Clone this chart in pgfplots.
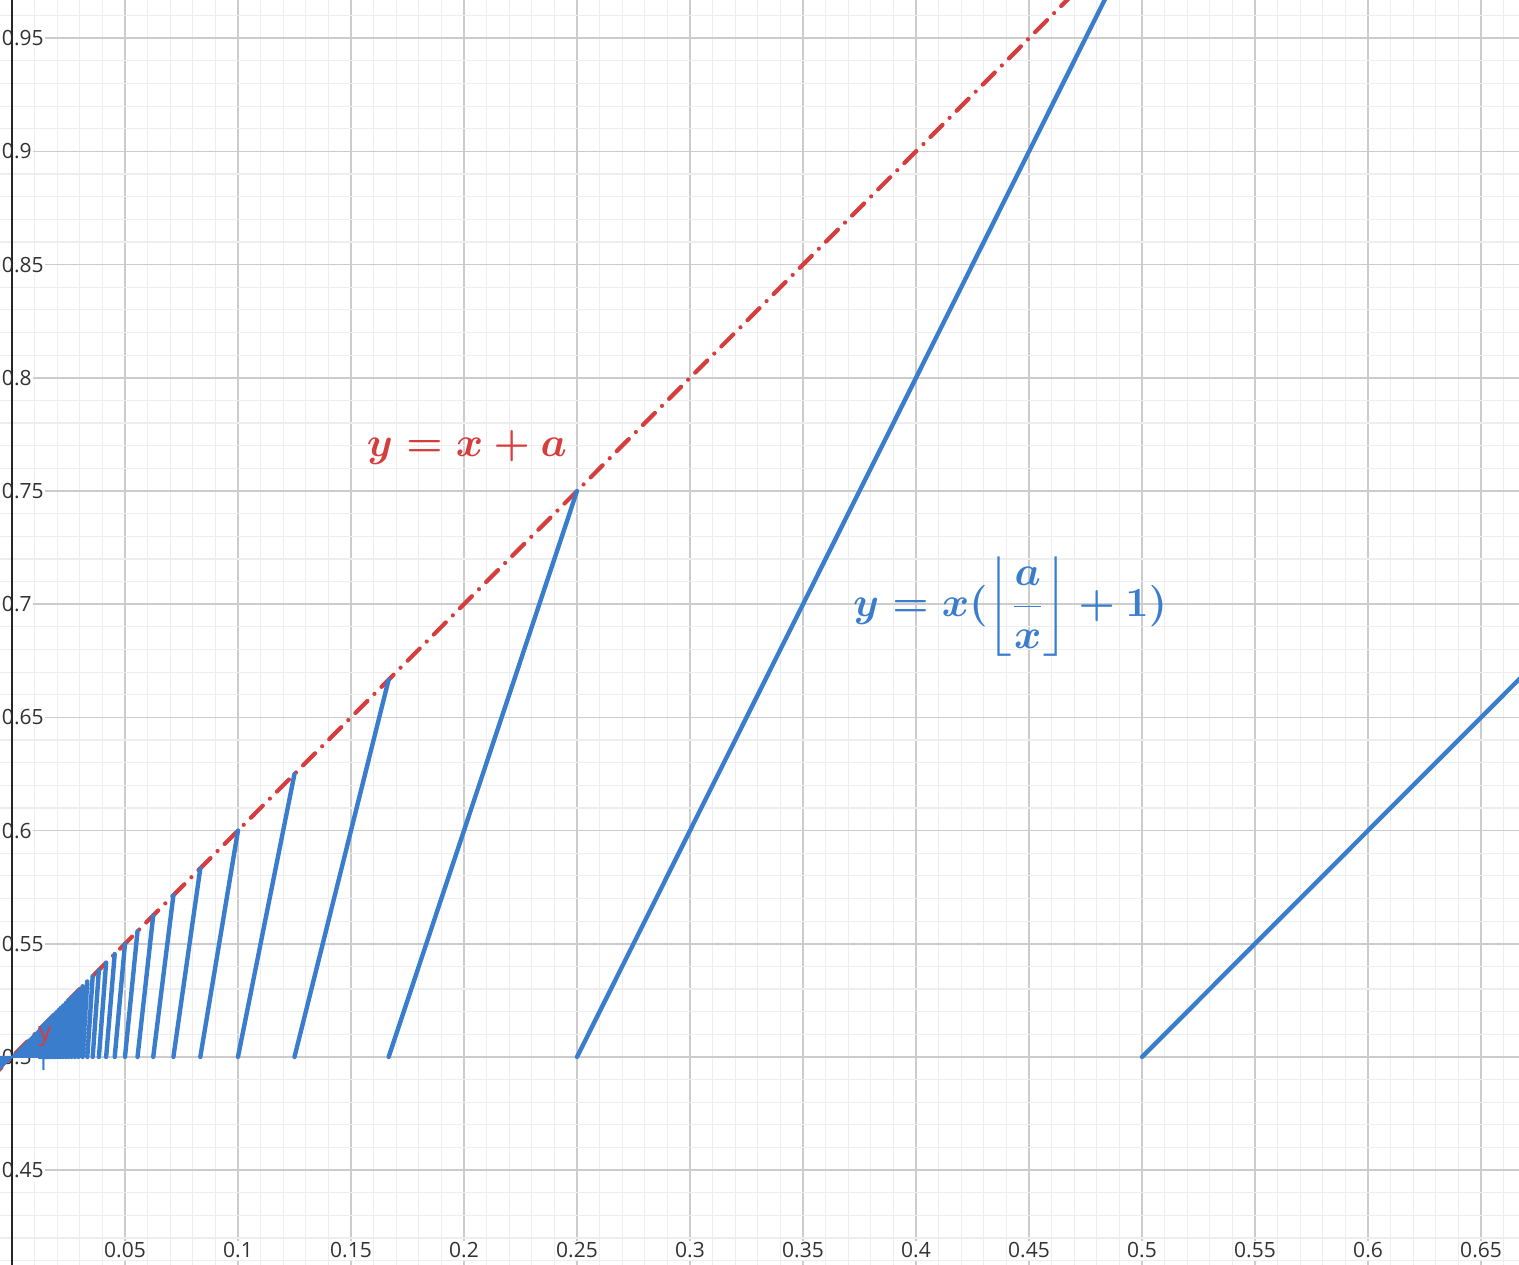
\documentclass[border=0pt]{standalone}
\usepackage{fontspec}
\setmainfont{Open Sans}
\usepackage{amsmath}
\usepackage{pgfplots}
\pgfplotsset{compat=1.18}
\definecolor{dred}{RGB}{214,62,62}
\definecolor{dblue}{RGB}{58,125,205}
\definecolor{majgrid}{RGB}{204,204,204}
\definecolor{mingrid}{RGB}{238,238,238}
\newsavebox{\redbox}
\newsavebox{\bluebox}
\begin{document}
\sbox{\redbox}{\fontsize{22}{26}\selectfont\color{dred}\boldmath$y = x + a$}%
\sbox{\bluebox}{\fontsize{21}{26}\selectfont\color{dblue}\boldmath$y = x(\left\lfloor\dfrac{a}{x}\right\rfloor + 1)$}%
\begin{tikzpicture}
\begin{axis}[
  scale only axis,
  width=759.5pt, height=632.5pt,
  xmin=-0.0053, xmax=0.6668,
  ymin=0.4081, ymax=0.9669,
  axis line style={draw=none},
  major tick length=0pt, minor tick length=0pt,
  xtick={0.05,0.1,0.15,0.2,0.25,0.3,0.35,0.4,0.45,0.5,0.55,0.6,0.65},
  ytick={0.45,0.5,0.55,0.6,0.65,0.7,0.75,0.8,0.85,0.9,0.95},
  minor xtick={0,0.01,0.02,0.03,0.04,0.06,0.07,0.08,0.09,0.11,0.12,0.13,0.14,0.16,0.17,0.18,0.19,0.21,0.22,0.23,0.24,0.26,0.27,0.28,0.29,0.31,0.32,0.33,0.34,0.36,0.37,0.38,0.39,0.41,0.42,0.43,0.44,0.46,0.47,0.48,0.49,0.51,0.52,0.53,0.54,0.56,0.57,0.58,0.59,0.61,0.62,0.63,0.64,0.66},
  minor ytick={0.41,0.42,0.43,0.44,0.46,0.47,0.48,0.49,0.51,0.52,0.53,0.54,0.56,0.57,0.58,0.59,0.61,0.62,0.63,0.64,0.66,0.67,0.68,0.69,0.71,0.72,0.73,0.74,0.76,0.77,0.78,0.79,0.81,0.82,0.83,0.84,0.86,0.87,0.88,0.89,0.91,0.92,0.93,0.94,0.96},
  grid=both,
  major grid style={draw=majgrid, line width=0.8pt},
  minor grid style={draw=mingrid, line width=0.6pt},
  /pgf/number format/assume math mode=true,
  /pgf/number format/fixed,
  /pgf/number format/precision=2,
  ticklabel style={font=\fontsize{10.5}{12}\selectfont, text=black!80},
  yticklabel style={anchor=west, fill=white, inner sep=0.8pt},
  xticklabel style={anchor=base, yshift=3.5pt, fill=white, inner sep=0.8pt},
  unbounded coords=jump,
]
\coordinate (ll) at (rel axis cs:0,0);
\coordinate (ur) at (rel axis cs:1,1);
\coordinate (L1) at (axis cs:0.2013,0.7694);
\coordinate (L2) at (axis cs:0.4416,0.6990);
\coordinate (L3) at (axis cs:0.0146,0.5090);
\coordinate (L4) at (axis cs:0.0142,0.4985);
\addplot[black!85, line width=1pt, forget plot] coordinates {(0,0.40) (0,0.97)};
\addplot[dred, line width=2.1pt, line cap=round, dash pattern=on 8.5pt off 5pt on 0pt off 5pt, forget plot] coordinates {(-0.01,0.49) (0.47,0.97)};
\addplot[dblue, line width=2.2pt, line cap=round, forget plot] coordinates {
(0.5,0.5) (0.7,0.7) (0.6,nan)
(0.25,0.5) (0.5,1.0) (0.3,nan)
(0.166667,0.5) (0.25,0.75) (0.2,nan)
(0.125,0.5) (0.166667,0.666667) (0.15,nan)
(0.1,0.5) (0.125,0.625) (0.11,nan)
(0.083333,0.5) (0.1,0.6) (0.09,nan)
(0.071429,0.5) (0.083333,0.583333) (0.08,nan)
(0.0625,0.5) (0.071429,0.571429) (0.07,nan)
(0.055556,0.5) (0.0625,0.5625) (0.06,nan)
(0.05,0.5) (0.055556,0.555556) (0.052,nan)
(0.045455,0.5) (0.05,0.55) (0.047,nan)
(0.041667,0.5) (0.045455,0.545455) (0.043,nan)
(0.038462,0.5) (0.041667,0.541667) (0.04,nan)
(0.035714,0.5) (0.038462,0.538462) (0.037,nan)
(0.033333,0.5) (0.035714,0.535714) (0.034,nan)
(0.03125,0.5) (0.033333,0.533333) (0.032,nan)
(0.029412,0.5) (0.03125,0.53125) (0.030,nan)
(0.027778,0.5) (0.029412,0.529412) (0.028,nan)
(0.026316,0.5) (0.027778,0.527778) (0.027,nan)
(0.025,0.5) (0.026316,0.526316) (0.0255,nan)
(0.02381,0.5) (0.025,0.525) (0.024,nan)
(0.022727,0.5) (0.02381,0.52381) (0.023,nan)
(0.021739,0.5) (0.022727,0.522727) (0.022,nan)
(0.020833,0.5) (0.021739,0.521739) (0.021,nan)
(0.02,0.5) (0.020833,0.520833) (0.0202,nan)
(0.019231,0.5) (0.02,0.52) (0.0195,nan)
(0.018519,0.5) (0.019231,0.519231) (0.0188,nan)
(0.017857,0.5) (0.018519,0.518519) (0.018,nan)
(0.017241,0.5) (0.017857,0.517857) (0.0175,nan)
(0.016667,0.5) (0.017241,0.517241) (0.0169,nan)
(0.016129,0.5) (0.016667,0.516667) (0.0163,nan)
(0.015625,0.5) (0.016129,0.516129) (0.0158,nan)
(0.015152,0.5) (0.015625,0.515625) (0.0153,nan)
(0.014706,0.5) (0.015152,0.515152) (0.0149,nan)
(0.014286,0.5) (0.014706,0.514706) (0.0144,nan)
(0.013889,0.5) (0.014286,0.514286) (0.0140,nan)
(0.013514,0.5) (0.013889,0.513889) (0.0137,nan)
(0.013158,0.5) (0.013514,0.513514) (0.0133,nan)
(0.012821,0.5) (0.013158,0.513158) (0.0130,nan)
(0.0125,0.5) (0.012821,0.512821) (0.0126,nan)
(0.012195,0.5) (0.0125,0.5125)
};
\addplot[dblue, fill=dblue, line width=1pt, forget plot] coordinates {(0,0.5) (0.012195,0.5) (0.012195,0.512195) (0,0.5)};
\addplot[dblue, fill=dblue, line width=1pt, forget plot] coordinates {(-0.007,0.493) (0,0.5) (-0.007,0.5) (-0.007,0.493)};
\end{axis}
\node at (L1) {\usebox{\redbox}};
\node at (L2) {\usebox{\bluebox}};
\node[text=dred, font=\fontsize{13}{15}\selectfont] at (L3) {y};
\node[text=dblue, font=\fontsize{13}{15}\selectfont] at (L4) {f};
\pgfresetboundingbox
\useasboundingbox (ll) rectangle (ur);
\end{tikzpicture}
\end{document}
